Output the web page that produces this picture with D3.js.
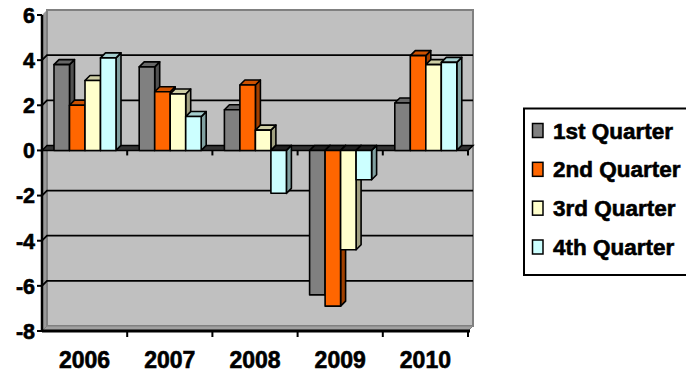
<!DOCTYPE html>
<html><head><meta charset="utf-8">
<script src="https://cdn.jsdelivr.net/npm/d3@7"></script>
<style>
html,body{margin:0;padding:0;background:#fff;}
svg text{font-family:"Liberation Sans",Arial,sans-serif;font-weight:bold;fill:#000;stroke:#000;stroke-width:0.6px;}
</style></head>
<body><svg id="c" width="686" height="376"></svg>
<script>
const categories = ["2006","2007","2008","2009","2010"];
const seriesNames = ["1st Quarter","2nd Quarter","3rd Quarter","4th Quarter"];
const q1 = [3.8, 3.7, 1.8, -6.4, 2.1];
const q2 = [2.0, 2.6, 2.9, -6.9, 4.2];
const q3 = [3.1, 2.5, 0.9, -4.4, 3.8];
const q4 = [4.1, 1.5, -1.9, -1.3, 3.9];
const yTicks = [6, 4, 2, 0, -2, -4, -6, -8];
const seriesValues = [q1, q2, q3, q4];
const colors = ["#808080", "#FF6600", "#FFFFCC", "#CCFFFF"];

const svg = d3.select("#c");
const X0 = 42, X1 = 468, DX = 5, DY = -5;
const y = d3.scaleLinear().domain([-8, 6]).range([331, 15]);
const xc = d3.scaleBand().domain(categories).range([X0, X1]).padding(0);
const xs = d3.scaleBand().domain(d3.range(4)).range([12, 74]).padding(0);

// walls
const wallTop = y(6) + DY, wallBot = y(-8) + DY;
svg.append("path") // left side wall
  .attr("d", `M${X0},${y(6)} L${X0+DX},${wallTop} L${X0+DX},${wallBot} L${X0},${y(-8)} Z`)
  .attr("fill", "#9a9a9a");
svg.append("rect").attr("x", X0+DX).attr("y", wallTop).attr("width", X1 - X0).attr("height", wallBot - wallTop)
  .attr("fill", "#C0C0C0").attr("stroke", "#808080").attr("stroke-width", 2);
// floor
svg.append("path")
  .attr("d", `M${X0},${y(-8)} L${X0+DX},${wallBot} L${X1+DX},${wallBot} L${X1},${y(-8)} Z`)
  .attr("fill", "#a0a0a0").attr("stroke", "#808080").attr("stroke-width", 1);

// gridlines
svg.append("g").selectAll("path").data(yTicks.filter(d => d !== 0 && d !== 6 && d !== -8)).join("path")
  .attr("d", d => `M${X0},${y(d)} L${X0+DX},${y(d)+DY} L${X1+DX},${y(d)+DY}`)
  .attr("fill", "none").attr("stroke", "#000").attr("stroke-width", 1.8);

// zero plane
svg.append("path")
  .attr("d", `M${X0},${y(0)} L${X0+DX},${y(0)+DY} L${X1+DX},${y(0)+DY} L${X1},${y(0)} Z`)
  .attr("fill", "#333").attr("stroke", "#000").attr("stroke-width", 1.5);

// bars
const shade = (c, k) => d3.color(c).darker(k).formatHex();
const gBars = svg.append("g");
categories.forEach((cat, ci) => {
  seriesValues.forEach((vals, si) => {
    const v = vals[ci];
    const x = xc(cat) + xs(si), w = xs.bandwidth();
    const yTop = y(Math.max(0, v)), yBot = y(Math.min(0, v));
    const g = gBars.append("g").attr("stroke", "#000").attr("stroke-width", 1.6).attr("stroke-linejoin", "round");
    g.append("path").attr("d", `M${x+w},${yTop} L${x+w+DX},${yTop+DY} L${x+w+DX},${yBot+DY} L${x+w},${yBot} Z`)
      .attr("fill", shade(colors[si], 1.3));
    g.append("path").attr("d", `M${x},${yTop} L${x+DX},${yTop+DY} L${x+w+DX},${yTop+DY} L${x+w},${yTop} Z`)
      .attr("fill", v >= 0 ? shade(colors[si], 0.6) : "#222");
    g.append("rect").attr("x", x).attr("y", yTop).attr("width", w).attr("height", yBot - yTop)
      .attr("fill", colors[si]);
  });
});

// y axis
const yAxis = svg.append("g");
yAxis.append("line").attr("x1", X0).attr("x2", X0).attr("y1", y(6)).attr("y2", y(-8))
  .attr("stroke", "#000").attr("stroke-width", 2.5);
yAxis.selectAll("line.t").data(yTicks).join("line").attr("class", "t")
  .attr("x1", X0 - 5).attr("x2", X0).attr("y1", d => y(d)).attr("y2", d => y(d))
  .attr("stroke", "#000").attr("stroke-width", 2);
yAxis.selectAll("text").data(yTicks).join("text")
  .attr("x", 35).attr("y", d => y(d) + 7.8).attr("text-anchor", "end")
  .attr("font-size", 21.5).text(d => d);

// category ticks on zero line and bottom
const bounds = categories.map(c => xc(c) + xc.bandwidth());
svg.append("g").selectAll("line").data(bounds).join("line")
  .attr("x1", d => d).attr("x2", d => d).attr("y1", y(0)).attr("y2", y(0) + 5)
  .attr("stroke", "#000").attr("stroke-width", 2);
svg.append("line").attr("x1", X0).attr("x2", X1 + 2).attr("y1", y(-8)).attr("y2", y(-8))
  .attr("stroke", "#000").attr("stroke-width", 3);
svg.append("g").selectAll("line").data(bounds).join("line")
  .attr("x1", d => d).attr("x2", d => d).attr("y1", y(-8)).attr("y2", y(-8) + 6)
  .attr("stroke", "#000").attr("stroke-width", 2);
svg.append("g").selectAll("text").data(categories).join("text")
  .attr("x", d => xc(d) + xc.bandwidth() / 2).attr("y", 368).attr("text-anchor", "middle")
  .attr("font-size", 23).text(d => d);

// legend
const lg = svg.append("g");
lg.append("rect").attr("x", 524).attr("y", 108.5).attr("width", 180).attr("height", 166.5)
  .attr("fill", "#fff").attr("stroke", "#000").attr("stroke-width", 2);
const rowY = d3.scaleLinear().domain([0, 3]).range([138.5, 255]);
seriesNames.forEach((n, i) => {
  lg.append("rect").attr("x", 532.5).attr("y", rowY(i) - 15).attr("width", 10.5).attr("height", 14)
    .attr("fill", colors[i]).attr("stroke", "#000").attr("stroke-width", 1.5);
  lg.append("text").attr("x", 553).attr("y", rowY(i)).attr("font-size", 22.5).text(n);
});
</script></body></html>
